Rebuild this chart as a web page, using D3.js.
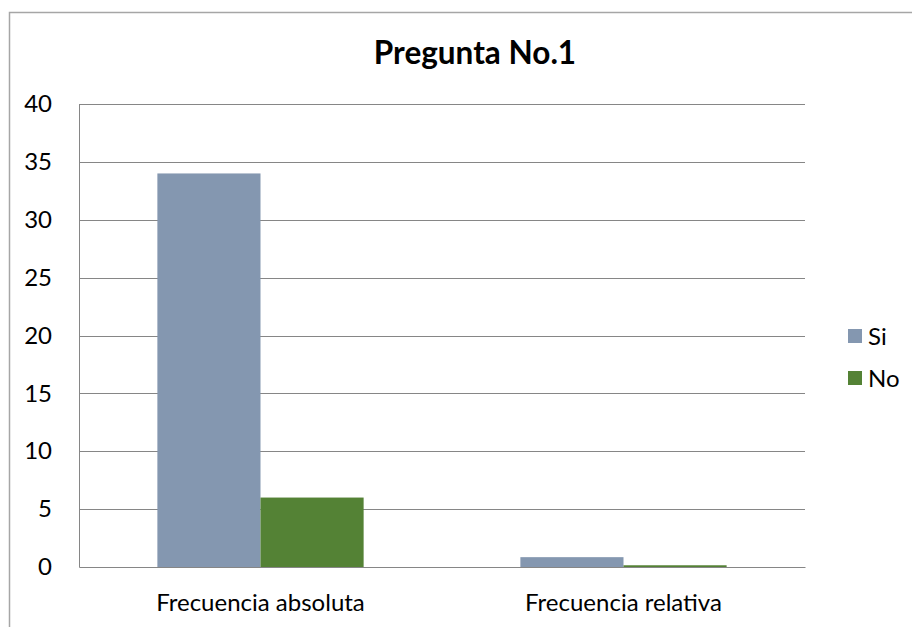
<!DOCTYPE html>
<html lang="es">
<head>
  <meta charset="UTF-8">
  <title>Pregunta No.1</title>
  <script src="https://cdn.jsdelivr.net/npm/d3@7"></script>
  <style>
    body { margin: 0; background: #fff; }
    text { font-family: Lato, "Open Sans", sans-serif; fill: #000; }
  </style>
</head>
<body>
  <svg id="svg" width="912" height="627"></svg>

  <script>
    // Data
    const categories = ['Frecuencia absoluta', 'Frecuencia relativa']
    const seriesNames = ['Si', 'No']
    const siValues = [34, 0.85]
    const noValues = [6, 0.15]
    const yTicks = [0, 5, 10, 15, 20, 25, 30, 35, 40]

    const colors = { Si: '#8497b0', No: '#548235' }
    const labelSize = 24

    const rows = categories.map((c, i) => ({ category: c, Si: siValues[i], No: noValues[i] }))

    const margin = { top: 104, right: 107, bottom: 60, left: 79 }
    const width = 912 - margin.left - margin.right
    const height = 567 - margin.top

    const svg = d3.select('#svg')

    // outer chart border (runs off the page to the right/bottom)
    svg.append('rect')
      .attr('x', 9.5).attr('y', 12.5)
      .attr('width', 940).attr('height', 700)
      .attr('fill', 'none')
      .attr('stroke', '#a6a6a6')
      .attr('stroke-width', 1.5)

    svg.append('text')
      .attr('x', 475).attr('y', 64)
      .attr('text-anchor', 'middle')
      .attr('font-size', 31.5)
      .attr('font-weight', 'bold')
      .text('Pregunta No.1')

    const g = svg.append('g').attr('transform', `translate(${margin.left},${margin.top})`)

    const x0 = d3.scaleBand().domain(categories).range([0, width]).paddingInner(0).paddingOuter(0)
    const x1 = d3.scaleBand().domain(seriesNames).range([0, x0.bandwidth()]).paddingInner(0).paddingOuter(0.76)
    const y = d3.scaleLinear().domain([0, 40]).range([height, 0])

    // gridlines
    g.append('g')
      .selectAll('line')
      .data(yTicks.filter(d => d > 0))
      .enter()
      .append('line')
      .attr('x1', 0).attr('x2', width)
      .attr('y1', d => Math.round(y(d)) + 0.5)
      .attr('y2', d => Math.round(y(d)) + 0.5)
      .attr('stroke', '#868686')

    // y axis
    const yAxis = g.append('g')
      .call(d3.axisLeft(y).tickValues(yTicks).tickSize(0).tickPadding(27))
    yAxis.select('.domain').attr('stroke', '#868686')
    yAxis.selectAll('text').attr('font-size', labelSize).attr('font-family', 'Lato, sans-serif')

    // bars
    g.append('g')
      .selectAll('g')
      .data(rows)
      .enter()
      .append('g')
      .attr('transform', d => `translate(${x0(d.category)},0)`)
      .selectAll('rect')
      .data(d => seriesNames.map(k => ({ key: k, value: d[k] })))
      .enter()
      .append('rect')
      .attr('x', d => x1(d.key))
      .attr('y', d => y(d.value))
      .attr('width', x1.bandwidth())
      .attr('height', d => height - y(d.value))
      .attr('fill', d => colors[d.key])

    // x axis
    const xAxis = g.append('g')
      .attr('transform', `translate(0,${height})`)
      .call(d3.axisBottom(x0).tickSize(0).tickPadding(27))
    xAxis.select('.domain').attr('stroke', '#868686')
    xAxis.selectAll('text').attr('font-size', labelSize).attr('font-family', 'Lato, sans-serif')

    // legend
    const legend = svg.append('g')
      .selectAll('g')
      .data(seriesNames)
      .enter()
      .append('g')
      .attr('transform', (d, i) => `translate(848,${329 + i * 42})`)
    legend.append('rect')
      .attr('width', 14).attr('height', 14)
      .attr('fill', d => colors[d])
    legend.append('text')
      .attr('x', 20).attr('y', 16)
      .attr('font-size', labelSize)
      .text(d => d)
  </script>
</body>
</html>
